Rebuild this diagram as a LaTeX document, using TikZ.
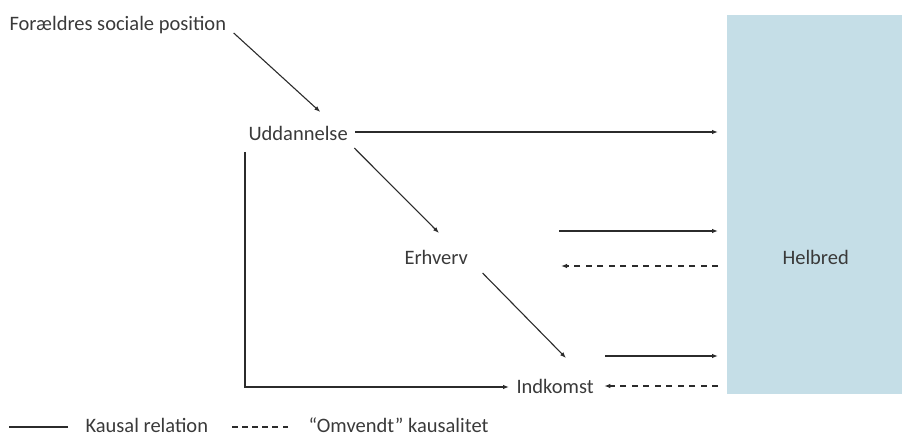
\documentclass[tikz,border=0pt]{standalone}
\usepackage{fontspec}
\setmainfont{Carlito}
\usetikzlibrary{arrows.meta}

\definecolor{helbredblaa}{HTML}{C5DEE7}
\definecolor{streg}{HTML}{2B2B2B}
\definecolor{tekst}{HTML}{3A3A3A}

\tikzset{every picture/.style={line width=1.1pt}}
\tikzset{
  tekstnode/.style={anchor=base west,inner sep=0pt,text=tekst,font=\fontsize{20.5}{24}\selectfont},
  pil/.style={draw=streg,-{Latex[length=6pt,width=4.5pt]}},
  omvendt/.style={pil,dash pattern={on 6pt off 5.5pt}},
  boks/.style={fill=helbredblaa,inner sep=0pt,anchor=north west,minimum width=176pt,minimum height=379pt}
}

\begin{document}
\begin{tikzpicture}[x=1pt,y=-1pt]
\useasboundingbox (0,0) rectangle (902,438);

%Shape: Rectangle
\node [boks] (boks) at (726,14) {};

% Text Node
\node [tekstnode] (foraeldre) at (9,31) {Forældres sociale position};
% Text Node
\node [tekstnode] (uddannelse) at (248,141) {Uddannelse};
% Text Node
\node [tekstnode] (erhverv) at (404,265) {Erhverv};
% Text Node
\node [tekstnode] (indkomst) at (516,393) {Indkomst};
% Text Node
\node [tekstnode] (helbred) at (782,265) {Helbred};
% Text Node
\node [tekstnode] (kausal) at (85,432) {Kausal relation};
% Text Node
\node [tekstnode] (omvendtk) at (308,432) {“Omvendt” kausalitet};

%Straight Lines
\draw [pil] ([shift={(7,2)}]foraeldre.base east) -- ([shift={(-28,-29)}]uddannelse.base east);
\draw [pil] ([shift={(6,7)}]uddannelse.base east) -- ([shift={(35,-32)}]erhverv.base west);
\draw [pil] ([shift={(14,8)}]erhverv.base east) -- ([shift={(50,-35)}]indkomst.base west);
\draw [pil] ([shift={(-3,11)}]uddannelse.base west) |- ([shift={(-7,-6)}]indkomst.base west);

%Arrows to and from Helbred
\coordinate (u1) at ([shift={(7,-9)}]uddannelse.base east);
\coordinate (e1) at (559,231);
\coordinate (e2) at (561,266);
\coordinate (i1) at (605,356);
\coordinate (i2) at ([shift={(10,-7)}]indkomst.base east);
\draw [pil,shorten >=8pt] (u1) -- (u1 -| boks.west);
\draw [pil,shorten >=8pt] (e1) -- (e1 -| boks.west);
\draw [omvendt,shorten <=8pt] (e2 -| boks.west) -- (e2);
\draw [pil,shorten >=8pt] (i1) -- (i1 -| boks.west);
\draw [omvendt,shorten <=8pt] (i2 -| boks.west) -- (i2);

%Legend
\draw [streg] ([shift={(-17,-5)}]kausal.base west) -- ++(-59,0);
\draw [streg,dash pattern={on 5.5pt off 4.6pt}] ([shift={(-20,-5)}]omvendtk.base west) -- ++(-56,0);

\end{tikzpicture}
\end{document}
